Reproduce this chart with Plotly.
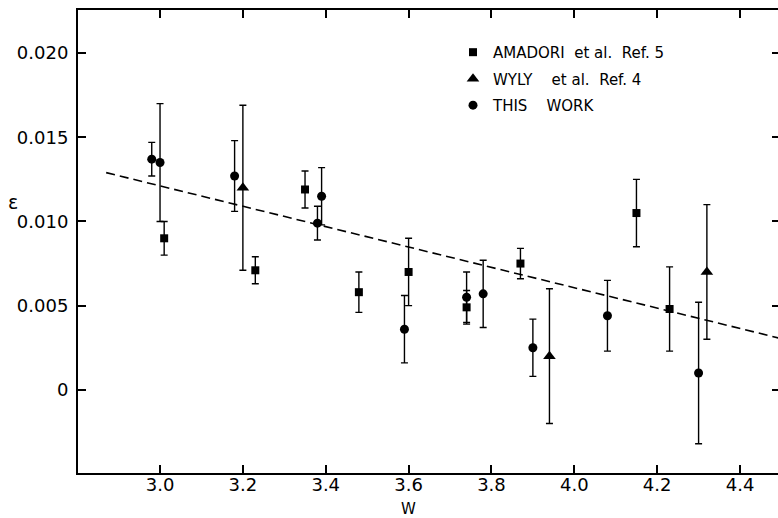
import plotly.graph_objects as go

# Amadori et al. (Ref. 5) - squares
amadori_w = [3.01, 3.23, 3.35, 3.48, 3.60, 3.74, 3.87, 4.15, 4.23]
amadori_e = [0.0090, 0.0071, 0.0119, 0.0058, 0.0070, 0.0049, 0.0075, 0.0105, 0.0048]
amadori_err = [0.0010, 0.0008, 0.0011, 0.0012, 0.0020, 0.0010, 0.0009, 0.0020, 0.0025]

# Wyly et al. (Ref. 4) - triangles
wyly_w = [3.20, 3.94, 4.32]
wyly_e = [0.0120, 0.0020, 0.0070]
wyly_err = [0.0049, 0.0040, 0.0040]

# This work - circles
this_w = [2.98, 3.00, 3.18, 3.38, 3.39, 3.59, 3.74, 3.78, 3.90, 4.08, 4.30]
this_e = [0.0137, 0.0135, 0.0127, 0.0099, 0.0115, 0.0036, 0.0055, 0.0057, 0.0025, 0.0044, 0.0010]
this_err = [0.0010, 0.0035, 0.0021, 0.0010, 0.0017, 0.0020, 0.0015, 0.0020, 0.0017, 0.0021, 0.0042]

# dashed fit line
fit_w = [2.87, 4.50]
fit_e = [0.0129, 0.00304]

font = "DejaVu Sans"
nb = "\u00a0"

# plot area runs a couple of px past the right edge of the window, as in the scan
W, H = 780, 518
L, T, PW, PH = 78, 10, 702, 463

fig = go.Figure()
fig.add_trace(go.Scatter(x=fit_w, y=fit_e, mode="lines", showlegend=False,
                         line=dict(color="black", width=1.6, dash="9px,5px")))

err = dict(type="data", thickness=1.4, width=3.5, color="black")
fig.add_trace(go.Scatter(x=amadori_w, y=amadori_e, mode="markers",
                         name="AMADORI" + nb * 2 + "et" + nb + "al." + nb * 2 + "Ref." + nb + "5",
                         legendgroup="a",
                         marker=dict(symbol="square", size=8, color="black"),
                         error_y=dict(array=amadori_err, **err)))
fig.add_trace(go.Scatter(x=wyly_w, y=wyly_e, mode="markers",
                         name="WYLY" + nb * 4 + "et" + nb + "al." + nb * 2 + "Ref." + nb + "4",
                         legendgroup="b",
                         marker=dict(symbol="triangle-up", size=11, color="black"),
                         error_y=dict(array=wyly_err, **err)))
fig.add_trace(go.Scatter(x=this_w, y=this_e, mode="markers",
                         name="THIS" + nb * 4 + "WORK",
                         legendgroup="c",
                         marker=dict(symbol="circle", size=9, color="black"),
                         error_y=dict(array=this_err, **err)))

axis = dict(showline=True, linecolor="black", linewidth=2, mirror="ticks",
            ticks="inside", ticklen=8, tickwidth=2, tickcolor="black",
            showgrid=False, zeroline=False, automargin=False,
            tickfont=dict(family=font, size=18, color="black"))

fig.update_xaxes(range=[2.802, 4.4965], tickvals=[3.0, 3.2, 3.4, 3.6, 3.8, 4.0, 4.2, 4.4],
                 ticktext=["3.0", "3.2", "3.4", "3.6", "3.8", "4.0", "4.2", "4.4"],
                 ticklabelstandoff=-6, **axis)
fig.update_yaxes(range=[-0.00494, 0.02256], tickvals=[0, 0.005, 0.010, 0.015, 0.020],
                 ticktext=["0", "0.005", "0.010", "0.015", "0.020"],
                 ticklabelstandoff=4, **axis)

# axis titles as annotations
fig.add_annotation(x=(13 - L) / PW, y=(T + PH - 202) / PH, xref="paper", yref="paper",
                   xanchor="center", yanchor="middle",
                   text="ε", showarrow=False, font=dict(family=font, size=19, color="black"))
fig.add_annotation(x=(408 - L) / PW, y=(T + PH - 509) / PH, xref="paper", yref="paper",
                   xanchor="center", yanchor="middle",
                   text="W", showarrow=False, font=dict(family=font, size=15, color="black"))

fig.update_layout(
    width=W, height=H,
    margin=dict(l=L, r=W - L - PW, t=T, b=H - T - PH),
    paper_bgcolor="white", plot_bgcolor="white",
    font=dict(family=font, color="black"),
    legend=dict(x=(453 - L) / PW, y=0.944, xanchor="left", yanchor="top",
                traceorder="grouped", tracegroupgap=4,
                font=dict(family=font, size=15, color="black"),
                bgcolor="rgba(0,0,0,0)"),
)

# drop the default 8px page margin so the figure fills the window
fig.write_html("out.html", config={"displayModeBar": False},
               post_script="document.body.style.margin='0';document.body.style.overflow='hidden';")
